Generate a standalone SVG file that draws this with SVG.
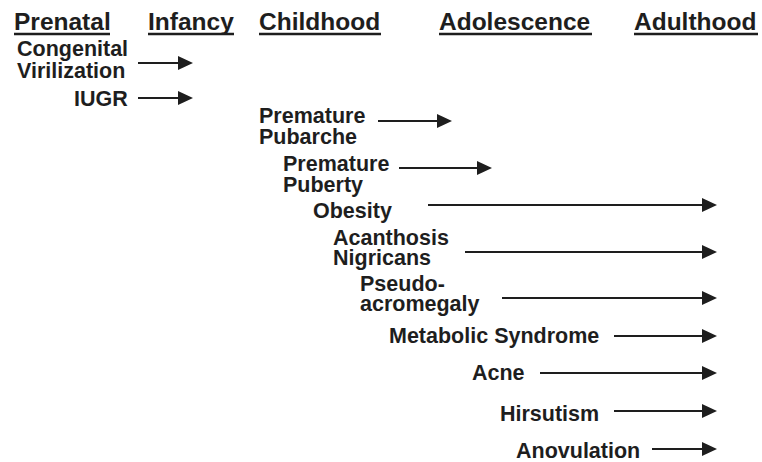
<svg xmlns="http://www.w3.org/2000/svg" width="762" height="462" viewBox="0 0 762 462">
<defs>
<style>
text{font-family:"Liberation Sans",Arial,sans-serif;font-weight:bold;fill:#1e1e1e}
.h{font-size:24.5px}
.t{font-size:21.5px}
.ul{stroke:#1e1e1e;stroke-width:2.5}
.c line{stroke:#1e1e1e;stroke-width:2.2;marker-end:url(#ah)}
</style>
<marker id="ah" markerUnits="userSpaceOnUse" markerWidth="16" markerHeight="15" refX="5" refY="7" orient="auto">
<path d="M0,0 L15,7 L0,14 Z" fill="#1e1e1e"/>
</marker>
</defs>
<rect width="762" height="462" fill="#fff"/>
<g id="headers">
<text class="h" x="14" y="30">Prenatal</text>
<line class="ul" x1="14" y1="34" x2="110" y2="34"/>
<text class="h" x="148" y="30">Infancy</text>
<line class="ul" x1="148" y1="34" x2="234" y2="34"/>
<text class="h" x="259" y="30">Childhood</text>
<line class="ul" x1="259" y1="34" x2="381" y2="34"/>
<text class="h" x="439" y="30">Adolescence</text>
<line class="ul" x1="439" y1="34" x2="592" y2="34"/>
<text class="h" x="634" y="30">Adulthood</text>
<line class="ul" x1="634" y1="34" x2="758" y2="34"/>
</g>
<g id="n-congenital"><text class="t" x="17" y="56">Congenital<tspan x="17" dy="22">Virilization</tspan></text></g>
<g id="n-iugr"><text class="t" x="74" y="106">IUGR</text></g>
<g id="n-pubarche"><text class="t" x="259" y="123">Premature<tspan x="259" dy="21">Pubarche</tspan></text></g>
<g id="n-puberty"><text class="t" x="283" y="171">Premature<tspan x="283" dy="21">Puberty</tspan></text></g>
<g id="n-obesity"><text class="t" x="313" y="218">Obesity</text></g>
<g id="n-acanthosis"><text class="t" x="333" y="245">Acanthosis<tspan x="333" dy="20">Nigricans</tspan></text></g>
<g id="n-pseudo"><text class="t" x="360" y="291">Pseudo-<tspan x="360" dy="20">acromegaly</tspan></text></g>
<g id="n-metabolic"><text class="t" x="389" y="343">Metabolic Syndrome</text></g>
<g id="n-acne"><text class="t" x="472" y="380">Acne</text></g>
<g id="n-hirsutism"><text class="t" x="500" y="421">Hirsutism</text></g>
<g id="n-anovulation"><text class="t" x="516" y="458">Anovulation</text></g>
<g class="c" id="connectors">
<line x1="138" y1="63" x2="183" y2="63"/>
<line x1="138" y1="98" x2="183" y2="98"/>
<line x1="378" y1="121" x2="442" y2="121"/>
<line x1="399" y1="168" x2="482" y2="168"/>
<line x1="428" y1="205" x2="707" y2="205"/>
<line x1="465" y1="252" x2="707" y2="252"/>
<line x1="502" y1="298" x2="707" y2="298"/>
<line x1="614" y1="336" x2="707" y2="336"/>
<line x1="540" y1="373" x2="707" y2="373"/>
<line x1="614" y1="411" x2="707" y2="411"/>
<line x1="652" y1="449" x2="707" y2="449"/>
</g>
</svg>
